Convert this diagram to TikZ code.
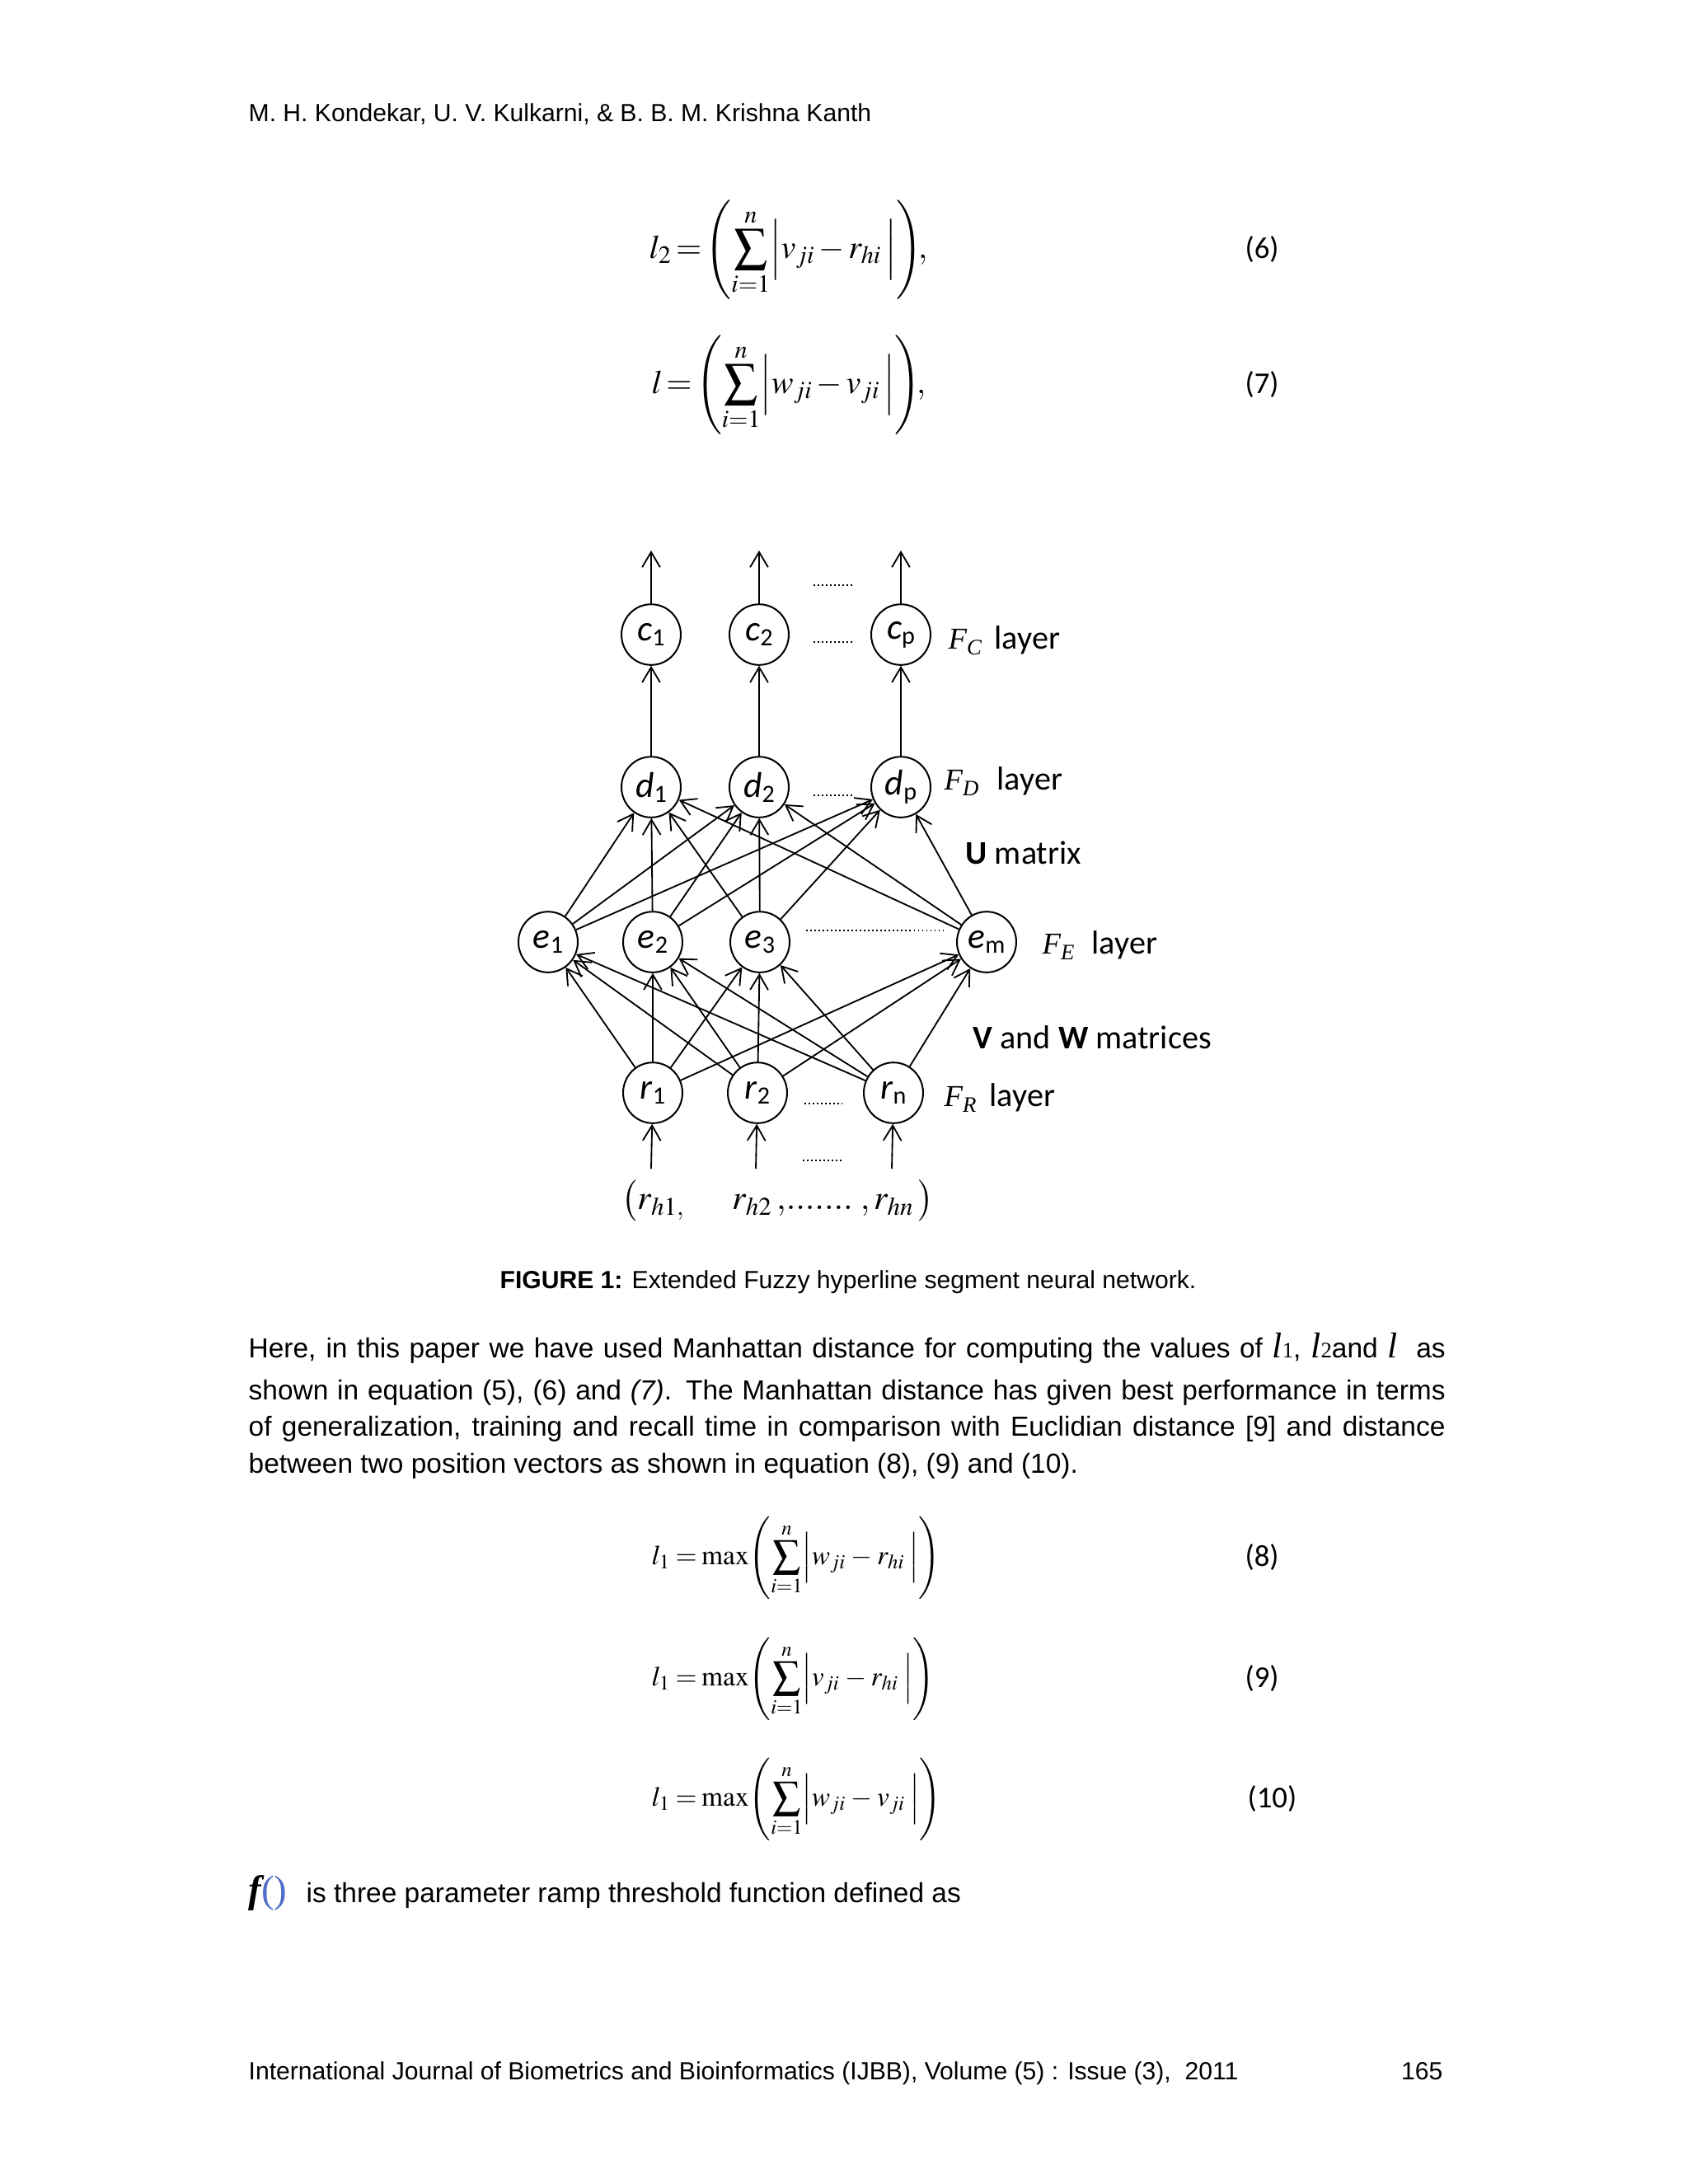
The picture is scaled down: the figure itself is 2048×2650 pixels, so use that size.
\documentclass[tikz,border=0pt]{standalone}
\usepackage{mathptmx}
\usepackage[no-math]{fontspec}
\setmainfont{Liberation Sans}
\newfontfamily\tms{Liberation Serif}
\newfontfamily\calib{Carlito}
\usetikzlibrary{arrows.meta,shapes.geometric}
\definecolor{fblue}{RGB}{80,110,200}
\newcommand{\nodelab}[2]{{\itshape #1}\raisebox{-0.3ex}{\fontsize{9}{9}\selectfont #2}}
\newcommand{\flay}[1]{F\raisebox{-0.45ex}{\fontsize{8}{8}\selectfont #1}}
\newcommand{\inl}[1]{{\tms\itshape\fontsize{13}{13}\selectfont l}{\tms\fontsize{8}{8}\selectfont #1}}
\begin{document}
\begin{tikzpicture}[x=0.29883pt,y=-0.29883pt,
  neuron/.style={draw, ellipse, line width=0.6pt, minimum width=21.5pt, minimum height=22pt, inner sep=0pt, font=\calib\fontsize{13}{13}\selectfont},
  arr/.style={-{Straight Barb[length=5.5pt,width=6.5pt,line width=0.55pt]}, line width=0.55pt},
  dots/.style={line width=0.7pt, dash pattern=on 0.45pt off 1.05pt},
  lab/.style={font=\calib\fontsize{12}{12}\selectfont, inner sep=0pt, anchor=base west},
  flab/.style={font=\tms\itshape\fontsize{11}{11}\selectfont, inner sep=0pt, anchor=base west},
  body/.style={font=\fontsize{10}{12}\selectfont, inner sep=0pt, anchor=base west},
  small/.style={font=\fontsize{9}{11}\selectfont, inner sep=0pt, anchor=base west},
  eqn/.style={font=\fontsize{12}{14}\selectfont, inner sep=0pt, anchor=west},
  eqs/.style={font=\fontsize{10}{12}\selectfont, inner sep=0pt, anchor=west},
  eqno/.style={font=\calib\fontsize{11}{12}\selectfont, inner sep=0pt, anchor=west}
]
\fill[white] (0,0) rectangle (2048,2650);
\useasboundingbox (0,0) rectangle (2048,2650);

% header
\node[small] (hdr) at (301,147) {M. H. Kondekar, U. V. Kulkarni, \& B. B. M. Krishna Kanth};

% equations 6, 7
\node[eqn] (eq6) at (787,303) {\thickmuskip=2mu\medmuskip=2mu$\displaystyle l_2 = \left(\sum_{i=1}^{n}\Bigl|v_{ji} - r_{hi}\,\Bigr|\right)\kern-3pt,$};
\node[eqno] (n6) at (1510,303) {(6)};
\node[eqn] (eq7) at (790,467) {\thickmuskip=2mu\medmuskip=2mu$\displaystyle l = \left(\sum_{i=1}^{n}\Bigl|w_{ji} - v_{ji}\,\Bigr|\right)\kern-3pt,$};
\node[eqno] (n7) at (1510,467) {(7)};

% neurons
\node[neuron] (c1) at (790,770) {\nodelab{c}{1}};
\node[neuron] (c2) at (921,770) {\nodelab{c}{2}};
\node[neuron] (cp) at (1093,770) {\nodelab{c}{p}};
\node[neuron] (d1) at (790,955) {\nodelab{d}{1}};
\node[neuron] (d2) at (921,955) {\nodelab{d}{2}};
\node[neuron] (dp) at (1093,955) {\nodelab{d}{p}};
\node[neuron] (e1) at (665,1143) {\nodelab{e}{1}};
\node[neuron] (e2) at (792,1143) {\nodelab{e}{2}};
\node[neuron] (e3) at (922,1143) {\nodelab{e}{3}};
\node[neuron] (em) at (1197,1143) {\nodelab{e}{m}};
\node[neuron] (r1) at (792,1326) {\nodelab{r}{1}};
\node[neuron] (r2) at (919,1326) {\nodelab{r}{2}};
\node[neuron] (rn) at (1084,1326) {\nodelab{r}{n}};

% outputs and inputs
\coordinate (o1) at (790,668);
\coordinate (o2) at (921,668);
\coordinate (op) at (1093,668);
\coordinate (i1) at (790,1418);
\coordinate (i2) at (917,1418);
\coordinate (in) at (1082,1418);
\draw[arr] (c1) -- (o1);
\draw[arr] (c2) -- (o2);
\draw[arr] (cp) -- (op);
\draw[arr] (d1) -- (c1);
\draw[arr] (d2) -- (c2);
\draw[arr] (dp) -- (cp);
\foreach \e in {e1,e2,e3,em} {\foreach \d in {d1,d2,dp} {\draw[arr] (\e) -- (\d);}}
\foreach \r in {r1,r2,rn} {\foreach \e in {e1,e2,e3,em} {\draw[arr] (\r) -- (\e);}}
\draw[arr] (i1) -- (r1);
\draw[arr] (i2) -- (r2);
\draw[arr] (in) -- (rn);

% dotted gaps
\coordinate (t0) at (987,710); \coordinate (t1) at (1037,710);
\coordinate (ca) at (987,779); \coordinate (cb) at (1035,779);
\coordinate (da) at (987,965); \coordinate (db) at (1037,965);
\coordinate (ea) at (978,1129); \coordinate (eb) at (1145,1129);
\coordinate (ra) at (976,1339); \coordinate (rb) at (1022,1339);
\coordinate (ba) at (974,1408); \coordinate (bb) at (1021,1408);
\draw[dots] (t0) -- (t1);
\draw[dots] (ca) -- (cb);
\draw[dots] (da) -- (db);
\draw[dots] (ea) -- (eb);
\draw[dots] (ra) -- (rb);
\draw[dots] (ba) -- (bb);

% layer labels
\node[flab] (fC) at (1150,787) {\flay{C}};
\node[lab] (lC) at (1206,787) {layer};
\node[flab] (fD) at (1145,958) {\flay{D}};
\node[lab] (lD) at (1209,958) {layer};
\node[lab] (um) at (1171,1048) {\textbf{U} matrix};
\node[flab] (fE) at (1264,1157) {\flay{E}};
\node[lab] (lE) at (1324,1157) {layer};
\node[lab] (vw) at (1180,1272) {\textbf{V} and \textbf{W} matrices};
\node[flab] (fR) at (1145,1342) {\flay{R}};
\node[lab] (lR) at (1200,1342) {layer};

% input vector
\node[inner sep=0pt, anchor=west, font=\fontsize{12.5}{14}\selectfont] (inA) at (754,1457) {$\bigl(r_{h1,}$};
\node[inner sep=0pt, anchor=west, font=\fontsize{12.5}{14}\selectfont] (inB) at (888,1457) {$r_{h2}\,,\!.......\;,r_{hn}\,\bigr)$};

% caption
\node[font=\fontsize{9}{11}\selectfont, inner sep=0pt, anchor=base] (cap) at (1029,1563) {\textbf{FIGURE 1:} Extended Fuzzy hyperline segment neural network.};

% paragraph
\node[body] (p1) at (301,1647) {\makebox[433.9pt][s]{Here, in this paper we have used Manhattan distance for computing the values of \inl{1}, \inl{2}and {\tms\itshape\fontsize{13}{13}\selectfont l} \ as}};
\node[body] (p2) at (301,1698) {\makebox[433.9pt][s]{shown in equation (5), (6) and \textit{(7)}. The Manhattan distance has given best performance in terms}};
\node[body] (p3) at (301,1742) {\makebox[433.9pt][s]{of generalization, training and recall time in comparison with Euclidian distance [9] and distance}};
\node[body] (p4) at (301,1787) {between two position vectors as shown in equation (8), (9) and (10).};

% equations 8-10
\node[eqs] (eq8) at (790,1890) {\thickmuskip=3mu\medmuskip=3mu$\displaystyle l_1 = \max\!\left(\sum_{i=1}^{n}\Bigl|w_{ji} - r_{hi}\;\Bigr|\right)$};
\node[eqno] (n8) at (1510,1890) {(8)};
\node[eqs] (eq9) at (790,2037) {\thickmuskip=3mu\medmuskip=3mu$\displaystyle l_1 = \max\!\left(\sum_{i=1}^{n}\Bigl|v_{ji} - r_{hi}\;\Bigr|\right)$};
\node[eqno] (n9) at (1510,2037) {(9)};
\node[eqs] (eq10) at (790,2183) {\thickmuskip=3mu\medmuskip=3mu$\displaystyle l_1 = \max\!\left(\sum_{i=1}^{n}\Bigl|w_{ji} - v_{ji}\;\Bigr|\right)$};
\node[eqno] (n10) at (1513,2183) {(10)};

% last line
\node[body, font=\tms\bfseries\itshape\fontsize{14}{14}\selectfont] (fx) at (301,2308) {f{\color{fblue}\normalfont\tms()}};
\node[body] (p5) at (371,2308) {is three parameter ramp threshold function defined as};

% footer
\node[small] (ftr) at (301,2523) {International Journal of Biometrics and Bioinformatics (IJBB), Volume (5) : Issue (3), \ 2011};
\node[small, anchor=base east] (pg) at (1751,2523) {165};
\end{tikzpicture}
\end{document}
